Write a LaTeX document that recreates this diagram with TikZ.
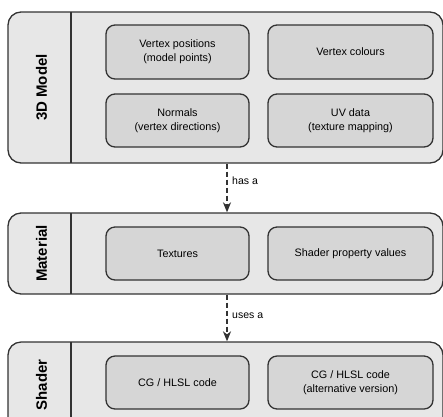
\documentclass[tikz,border=0pt]{standalone}
\usepackage{fontspec}
\setmainfont{Liberation Sans}
\usetikzlibrary{arrows.meta}
\definecolor{outerfill}{HTML}{E7E7E7}
\definecolor{innerfill}{HTML}{D6D6D6}
\definecolor{edge}{HTML}{333333}
\tikzset{
  outerbox/.style={draw=edge, fill=outerfill, line width=1.3pt, rounded corners=13pt, inner sep=0pt},
  innerbox/.style={draw=edge, fill=innerfill, line width=1.3pt, rounded corners=9pt, inner sep=0pt,
     align=center, font=\fontsize{10.8pt}{14pt}\selectfont},
  sidelabel/.style={rotate=90, font=\fontsize{15pt}{18pt}\selectfont\bfseries, inner sep=0pt},
  divider/.style={draw=edge, line width=1.3pt},
  relarrow/.style={draw=edge, line width=1.4pt, dash pattern=on 5pt off 3pt, -{Stealth[length=10pt,width=8pt,inset=3pt]}},
  rellabel/.style={font=\fontsize{10.5pt}{12pt}\selectfont, anchor=west, inner sep=0pt}
}
\begin{document}
\begin{tikzpicture}[x=1pt,y=-1pt]
\useasboundingbox (0,0) rectangle (443,416);
\begin{scope}
\clip (0,0) rectangle (443,416);
% 3D Model
\node[outerbox, minimum width=435pt, minimum height=151pt] (model) at (225.5,87.5) {};
\coordinate (mdt) at (71,12);
\coordinate (mdb) at (71,163);
\draw[divider] (mdt) -- (mdb);
\node[sidelabel] (modellbl) at (41.5,87.5) {3D Model};
\node[innerbox, minimum width=143pt, minimum height=54pt] (vpos) at (177.5,52) {Vertex positions\\(model points)};
\node[innerbox, minimum width=165pt, minimum height=54pt] (vcol) at (350.5,52) {Vertex colours};
\node[innerbox, minimum width=143pt, minimum height=53pt] (norm) at (177.5,120.5) {Normals\\(vertex directions)};
\node[innerbox, minimum width=165pt, minimum height=53pt] (uv) at (350.5,120.5) {UV data\\(texture mapping)};
% Material
\node[outerbox, minimum width=435pt, minimum height=81pt] (mat) at (225.5,253.5) {};
\coordinate (mtt) at (71,213);
\coordinate (mtb) at (71,294);
\draw[divider] (mtt) -- (mtb);
\node[sidelabel] (matlbl) at (41.5,253.5) {Material};
\node[innerbox, minimum width=143pt, minimum height=53pt] (tex) at (177.5,253.5) {Textures};
\node[innerbox, minimum width=165pt, minimum height=53pt] (spv) at (350.5,253.5) {Shader property values};
% Shader
\node[outerbox, minimum width=435pt, minimum height=100pt] (shd) at (225.5,392) {};
\coordinate (sht) at (71,342);
\coordinate (shb) at (71,442);
\draw[divider] (sht) -- (shb);
\node[sidelabel] (shdlbl) at (41.5,385) {Shader};
\node[innerbox, minimum width=143pt, minimum height=53pt] (cg1) at (177.5,382.5) {CG / HLSL code};
\node[innerbox, minimum width=165pt, minimum height=53pt] (cg2) at (350.5,382.5) {CG / HLSL code\\(alternative version)};
\end{scope}
% arrows
\draw[relarrow] ([xshift=1.5pt]model.south) -- ([xshift=1.5pt]mat.north);
\node[rellabel] (hasa) at (232,181) {has a};
\draw[relarrow] ([xshift=1.5pt]mat.south) -- ([xshift=1.5pt]shd.north);
\node[rellabel] (usesa) at (232,316) {uses a};
\end{tikzpicture}
\end{document}
